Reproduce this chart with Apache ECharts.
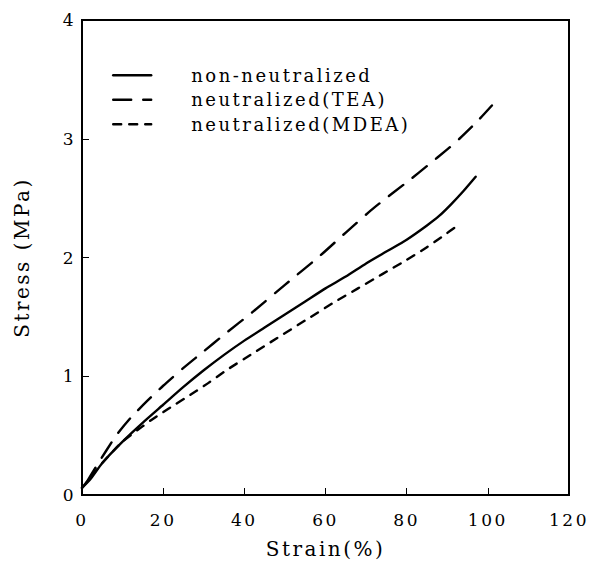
<!DOCTYPE html>
<html>
<head>
<meta charset="utf-8">
<script src="https://cdn.jsdelivr.net/npm/echarts@6/dist/echarts.min.js"></script>
<style>
  html, body { margin: 0; padding: 0; background: #fff; }
  #chart { width: 593px; height: 573px; }
  /* typewriter-like serif lettering for every label */
  #chart svg text {
    letter-spacing: 2.5px;
    font-family: 'DejaVu Serif', 'Liberation Serif', serif !important;
  }
</style>
</head>
<body>
<div id="chart"></div>
<script>
// Stress–strain curves, [strain %, stress MPa]
const nonNeutralized = [
  [0, 0.06], [2, 0.13], [5, 0.27], [10, 0.45], [15, 0.61], [20, 0.76],
  [25, 0.91], [30, 1.05], [35, 1.18], [40, 1.30], [45, 1.41], [50, 1.52],
  [55, 1.63], [60, 1.74], [65, 1.84], [70, 1.95], [75, 2.05], [80, 2.15],
  [85, 2.27], [88, 2.35], [91, 2.45], [94, 2.56], [97, 2.68]
];
const neutralizedTEA = [
  [1, 0.10], [3.5, 0.24], [8.4, 0.50], [12, 0.65], [16, 0.79], [20, 0.92],
  [25, 1.07], [30, 1.21], [35, 1.35], [42, 1.54], [50, 1.77], [58.5, 2.01],
  [65, 2.21], [72, 2.42], [81, 2.66], [85, 2.77], [90, 2.91], [93, 3.00],
  [97.5, 3.15], [101, 3.28]
];
const neutralizedMDEA = [
  [0, 0.06], [5, 0.27], [10, 0.45], [15, 0.58], [17, 0.63], [21, 0.72],
  [27, 0.85], [31, 0.94], [36, 1.06], [42, 1.19], [48, 1.32], [55, 1.47],
  [62, 1.62], [68, 1.74], [74, 1.86], [80, 1.98], [84.7, 2.08], [88.5, 2.17],
  [93, 2.28]
];
const seriesNames = ['non-neutralized', 'neutralized(TEA)', 'neutralized(MDEA)'];
const xTicks = [0, 20, 40, 60, 80, 100, 120];
const yTicks = [0, 1, 2, 3, 4];

const serif = "'DejaVu Serif', 'Liberation Serif', serif";

const chart = echarts.init(document.getElementById('chart'), null, { renderer: 'svg' });

function lineSeries(name, data, type) {
  return {
    name: name,
    type: 'line',
    data: data,
    showSymbol: false,
    symbol: 'none',
    smooth: 0.2,
    lineStyle: { color: '#000', width: 2.4, type: type, cap: 'round', join: 'round' },
    itemStyle: { color: '#000' },
    silent: true
  };
}

chart.setOption({
  animation: false,
  backgroundColor: '#fff',
  grid: {
    left: 82, right: 24, top: 20, bottom: 78,
    outerBoundsMode: 'none',
    show: true, borderColor: '#000', borderWidth: 2
  },
  legend: {
    orient: 'vertical',
    left: 107, top: 58,
    itemWidth: 38, itemHeight: 14, itemGap: 0,
    data: seriesNames,
    itemStyle: { opacity: 0, borderWidth: 0 },
    lineStyle: { width: 2.4 },
    textStyle: {
      fontFamily: serif, fontSize: 18, color: '#000',
      padding: [0, 0, 0, 35], lineHeight: 24.5
    }
  },
  xAxis: {
    type: 'value', min: 0, max: 120, interval: 20,
    name: 'Strain(%)', nameLocation: 'middle', nameGap: 44,
    nameTextStyle: { fontFamily: serif, fontSize: 20, color: '#000' },
    axisLine: { show: true, lineStyle: { color: '#000', width: 2 } },
    axisTick: { show: true, inside: true, length: 7, lineStyle: { color: '#000', width: 1 } },
    axisLabel: {
      fontFamily: serif, fontSize: 17, color: '#000', margin: 16,
      formatter: v => (xTicks.indexOf(v) >= 0 ? String(v) : '')
    },
    splitLine: { show: false }
  },
  yAxis: {
    type: 'value', min: 0, max: 4, interval: 1,
    name: 'Stress (MPa)', nameLocation: 'middle', nameGap: 50,
    nameTextStyle: { fontFamily: serif, fontSize: 20, color: '#000' },
    axisLine: { show: true, lineStyle: { color: '#000', width: 2 } },
    axisTick: { show: true, inside: true, length: 7, lineStyle: { color: '#000', width: 1 } },
    axisLabel: {
      fontFamily: serif, fontSize: 17, color: '#000', margin: 6,
      formatter: v => (yTicks.indexOf(v) >= 0 ? String(v) : '')
    },
    splitLine: { show: false }
  },
  series: [
    lineSeries(seriesNames[0], nonNeutralized, 'solid'),
    lineSeries(seriesNames[1], neutralizedTEA, [18, 12]),
    lineSeries(seriesNames[2], neutralizedMDEA, [8, 8])
  ]
});
</script>
</body>
</html>
